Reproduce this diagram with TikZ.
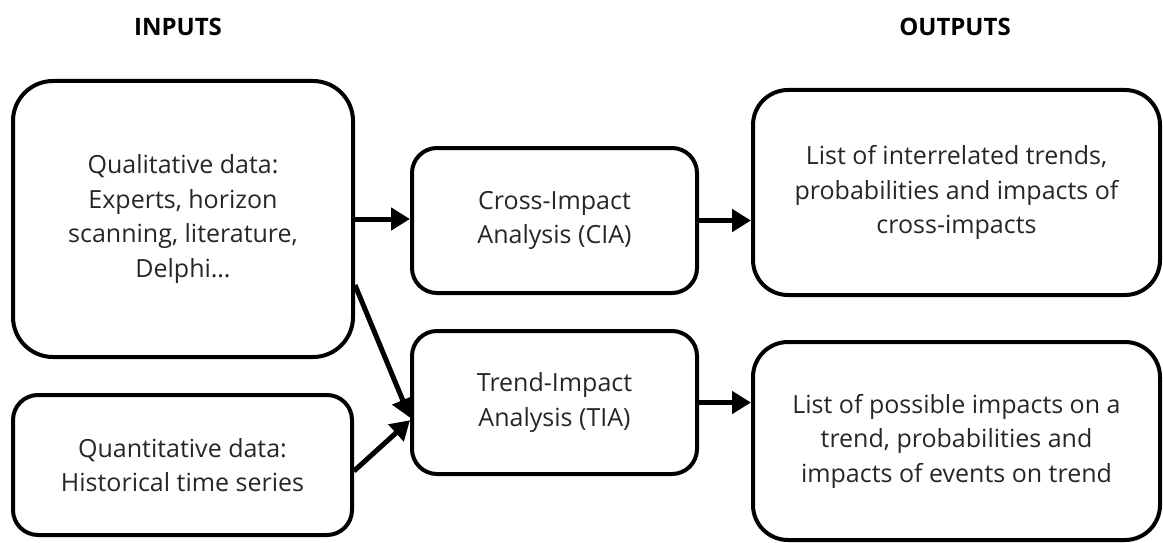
\documentclass[tikz,border=0pt]{standalone}
\usepackage{fontspec}
\setmainfont{Open Sans}
\usetikzlibrary{arrows.meta}

\begin{document}
\begin{tikzpicture}[x=1pt, y=-1pt,
        box/.style={draw=black, line width=4pt, align=center, text=black!85,
            font=\fontsize{25}{34.5}\selectfont, inner sep=0pt},
        arr/.style={line width=5pt, -{Triangle[length=19pt,width=22pt]}},
        header/.style={font=\fontsize{24}{30}\selectfont\bfseries}]
            \useasboundingbox (0,0) rectangle (1163,543);

            % Titles
            \node[header] (inputs) at (178,27) {INPUTS};
            \node[header] (outputs) at (955,27) {OUTPUTS};

            % Inputs
            \node[box, rounded corners=40pt, minimum width=340pt, minimum height=276pt] (qual) at (183,219)
                {Qualitative data:\\Experts, horizon\\scanning, literature,\\Delphi…};
            \node[box, rounded corners=25pt, minimum width=339pt, minimum height=140pt] (quant) at (182.5,465)
                {Quantitative data:\\Historical time series};

            % Methods
            \node[box, rounded corners=25pt, minimum width=285pt, minimum height=145pt] (cia) at (554.5,220.5)
                {Cross-Impact\\Analysis (CIA)};
            \node[box, rounded corners=25pt, minimum width=285pt, minimum height=143pt] (tia) at (554.5,402.5)
                {Trend-Impact\\Analysis (TIA)};

            % Outputs
            \node[box, rounded corners=35pt, minimum width=407pt, minimum height=205pt] (outcia) at (956.5,192.5)
                {List of interrelated trends,\\probabilities and impacts of\\cross-impacts};
            \node[box, rounded corners=35pt, minimum width=407pt, minimum height=198pt] (outtia) at (956.5,441)
                {List of possible impacts on a\\trend, probabilities and\\impacts of events on trend};

            % Arrows
            \draw[arr] (qual.east) -- (qual.east -| cia.west);
            \draw[arr] (qual.-21) -- (tia.186);
            \draw[arr] (quant.-2) -- (tia.187);
            \draw[arr] (cia.east) -- (cia.east -| outcia.west);
            \draw[arr] (tia.east) -- (tia.east -| outtia.west);
\end{tikzpicture}
\end{document}
